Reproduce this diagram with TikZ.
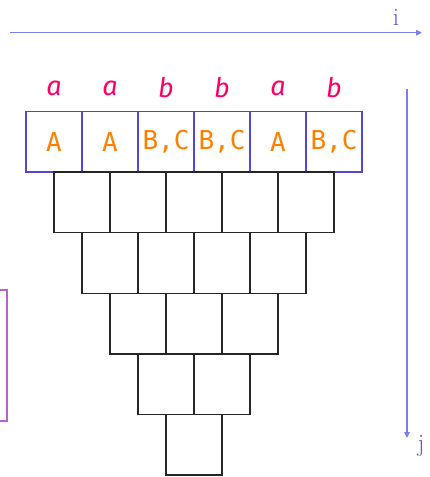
\documentclass[tikz,border=0pt]{standalone}
\usepackage{fontspec}
\newfontfamily\symfont{Fira Sans}
\newfontfamily\setfont{DejaVu Sans Mono}
\usetikzlibrary{arrows.meta}
\definecolor{symred}{RGB}{250,0,100}
\definecolor{setorange}{RGB}{255,128,0}
\definecolor{cellblue}{RGB}{80,70,210}
\definecolor{axisblue}{RGB}{125,125,235}
\definecolor{labblue}{RGB}{90,90,215}
\definecolor{framepurple}{RGB}{185,100,200}

\begin{document}
\begin{tikzpicture}[x=1pt, y=-1pt,
          cell/.style={draw=black!85, minimum width=56pt, minimum height=60.6pt, inner sep=0pt, line width=1.4pt},
          topcell/.style={cell, draw=cellblue, text=setorange, font=\setfont\fontsize{26}{26}\selectfont},
          sym/.style={text=symred, font=\symfont\itshape\fontsize{27}{27}\selectfont},
          axis/.style={draw=axisblue, line width=1.5pt, -{Triangle[length=6pt,width=5.5pt]}},
          axislab/.style={text=labblue, font=\fontsize{25}{25}\selectfont}]
        \useasboundingbox (0,0) rectangle (429,477);
        % input string and its sets
        \foreach \s [count=\k] in {a,a,b,b,a,b}
            \node[sym] (s\k) at ({54+56*(\k-1)}, 88) {\s};
        \foreach \t [count=\k] in {A,A,{B,C},{B,C},A,{B,C}}
            \node[topcell] (t\k) at ({54+56*(\k-1)}, 141.7) {\t};
        % the triangle
        \foreach \r/\n in {1/5, 2/4, 3/3, 4/2, 5/1}
            \foreach \k in {1,...,\n}
                \node[cell] (c\r-\k) at ({54+28*\r+56*(\k-1)}, {141.7+60.6*\r}) {};
        % axes
        \coordinate (i0) at (10,32.7);
        \coordinate (i1) at (422,32.7);
        \draw[axis] (i0) -- (i1);
        \node[axislab] (ilab) at (396,17) {i};
        \coordinate (j0) at (407,89);
        \coordinate (j1) at (407,438);
        \draw[axis] (j0) -- (j1);
        \node[axislab] (jlab) at (421,446) {j};
        % cut-off frame
        \draw[framepurple, line width=1.6pt] (-40,290) rectangle (6.7,420.7);
      \end{tikzpicture}
\end{document}
